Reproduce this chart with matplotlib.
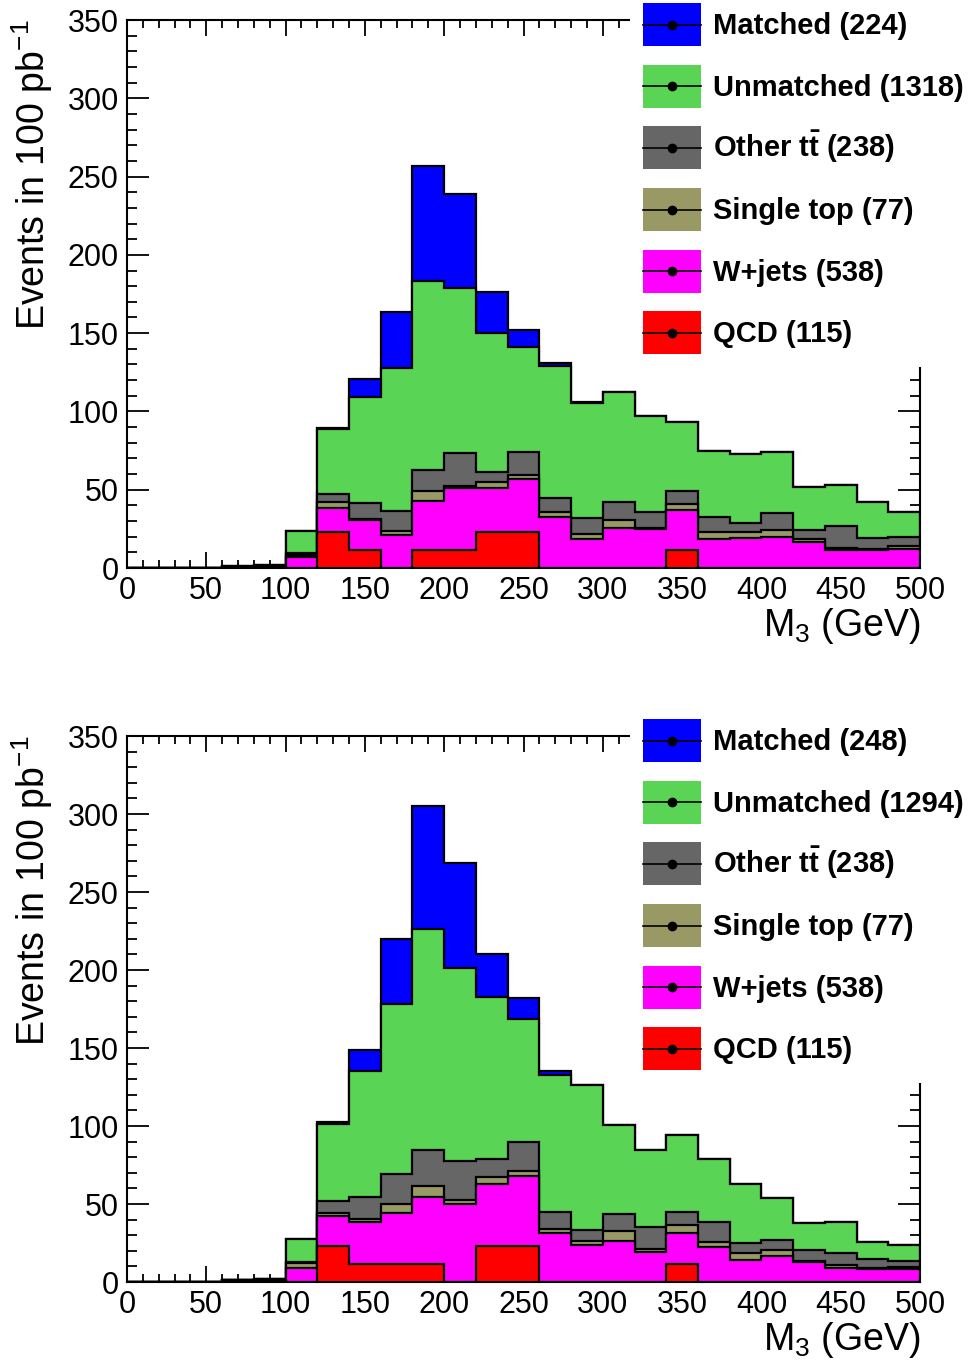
import numpy as np
import matplotlib
matplotlib.use("Agg")
import matplotlib.pyplot as plt
from matplotlib.patches import Patch, Rectangle
from matplotlib.lines import Line2D
from matplotlib.legend_handler import HandlerBase
from matplotlib.ticker import MultipleLocator

plt.rcParams['font.family'] = ['Liberation Sans', 'DejaVu Sans']
plt.rcParams['mathtext.fontset'] = 'custom'
plt.rcParams['mathtext.rm'] = 'Liberation Sans'
plt.rcParams['mathtext.bf'] = 'Liberation Sans:bold'

# === Data: 25 bins of 20 GeV, 0..500 ===
edges = np.arange(0, 520, 20)

# top panel
qcd_top = [0, 0, 0, 0, 0, 0, 23.2, 11.5, 0, 11.5, 11.5, 23.2, 23.2,
           0, 0, 0, 0, 11.5, 0, 0, 0, 0, 0, 0, 0]
wjets_top = [0, 0, 0, 0.4, 0.6, 6.8, 15.3, 19.3, 21.0, 31.5, 39.4, 28.1, 33.4,
             32.8, 18.3, 25.7, 24.7, 25.5, 18.3, 19.0, 20.0, 16.8, 11.5, 11.5, 12.1]
stop_top = [0, 0, 0, 0, 0, 1.5, 3.5, 0.5, 2.6, 6.4, 1.5, 3.4, 2.8,
            3.0, 3.6, 4.9, 1.0, 3.9, 4.9, 3.8, 4.3, 1.5, 1.5, 0.6, 1.9]
other_top = [0, 0, 0, 0, 0.4, 1.1, 5.3, 10.4, 12.8, 13.2, 21.2, 6.8, 14.5,
             8.7, 10.0, 11.3, 10.3, 8.3, 9.2, 6.1, 10.6, 6.0, 13.8, 6.9, 6.0]
unmatched_top = [0, 0, 0, 0.6, 1.0, 14.4, 41.7, 67.7, 91.1, 120.7, 105.0, 88.8, 67.0,
                 84.8, 73.8, 70.3, 61.0, 44.2, 42.5, 43.7, 39.4, 27.6, 26.2, 23.3, 15.8]
matched_top = [0, 0, 0, 0, 0, 0, 0.3, 11.1, 36.2, 73.4, 60.0, 25.7, 11.1,
               1.7, 0.2, 0.2, 0.2, 0.1, 0.1, 0.1, 0.1, 0.1, 0.1, 0.1, 0.1]

# bottom panel
qcd_bot = [0, 0, 0, 0, 0, 0, 23.0, 11.5, 11.5, 11.5, 0, 23.0, 23.0,
           0, 0, 0, 0, 11.5, 0, 0, 0, 0, 0, 0, 0]
wjets_bot = [0, 0, 0, 1.5, 1.0, 8.8, 19.3, 27.2, 32.9, 43.2, 49.8, 39.6, 44.9,
             31.4, 24.0, 26.5, 19.4, 20.1, 22.6, 14.1, 16.7, 12.6, 8.8, 8.1, 8.3]
stop_bot = [0, 0, 0, 0, 0, 3.2, 2.1, 1.7, 5.4, 6.8, 2.8, 4.5, 3.3,
            2.4, 2.2, 6.2, 1.6, 4.9, 3.2, 4.7, 3.8, 1.1, 2.1, 1.1, 1.5]
other_bot = [0, 0, 0, 0, 1.0, 1.0, 7.5, 14.3, 19.4, 23.1, 25.0, 11.5, 18.3,
             11.0, 7.1, 10.9, 14.0, 8.2, 12.9, 6.0, 6.4, 6.8, 7.5, 5.5, 3.9]
unmatched_bot = [0, 0, 0, 0, 0, 14.4, 49.2, 80.8, 109.0, 141.4, 123.9, 104.3, 79.1,
                 87.7, 92.8, 57.0, 49.6, 49.5, 40.1, 37.8, 26.7, 17.1, 19.9, 11.1, 10.0]
matched_bot = [0, 0, 0, 0, 0, 0, 1.7, 13.2, 41.5, 79.0, 67.3, 27.1, 13.2,
               2.5, 0.4, 0.1, 0.1, 0.1, 0.1, 0.1, 0.1, 0.1, 0.1, 0.1, 0.1]

names = ["Matched", "Unmatched", r"Other t$\mathbf{\bar{t}}$", "Single top", "W+jets", "QCD"]
counts_top = [224, 1318, 238, 77, 538, 115]
counts_bot = [248, 1294, 238, 77, 538, 115]
colors = ["#0000ff", "#59d454", "#666666", "#999966", "#ff00ff", "#ff0000"]


class BoxLineDot(HandlerBase):
    # ROOT-style "lpf" legend entry: filled box, line and marker through the middle
    def create_artists(self, legend, orig_handle, xdescent, ydescent,
                       width, height, fontsize, trans):
        x0, y0 = -xdescent, -ydescent
        yc = y0 + height / 2
        box = Rectangle((x0, y0), width, height, facecolor=orig_handle.get_facecolor(),
                        edgecolor="none", transform=trans)
        line = Line2D([x0, x0 + width], [yc, yc], color="black", lw=1.2, transform=trans)
        dot = Line2D([x0 + width / 2], [yc], color="black", marker="o", markersize=6,
                     linestyle="none", transform=trans)
        return [box, line, dot]


def draw_panel(ax, comps, counts):
    # comps ordered bottom -> top: qcd, wjets, stop, other, unmatched, matched
    cum = np.cumsum(np.array(comps, dtype=float), axis=0)
    layer_colors = colors[::-1]
    # draw tallest first so lower layers sit on top
    for i in range(len(comps) - 1, -1, -1):
        ax.stairs(cum[i], edges, baseline=0, fill=True, facecolor=layer_colors[i],
                  edgecolor="none", zorder=2)
        ax.stairs(cum[i], edges, baseline=0, fill=False, color="black",
                  linewidth=1.6, zorder=2)

    ax.set_xlim(0, 500)
    ax.set_ylim(0, 350)
    ax.xaxis.set_major_locator(MultipleLocator(50))
    ax.xaxis.set_minor_locator(MultipleLocator(10))
    ax.yaxis.set_major_locator(MultipleLocator(50))
    ax.yaxis.set_minor_locator(MultipleLocator(10))
    ax.tick_params(which="both", direction="in", top=True, right=True,
                   labelsize=22, width=1.3)
    ax.tick_params(axis="y", which="major", length=15.5, pad=6)
    ax.tick_params(axis="y", which="minor", length=7.5)
    ax.tick_params(axis="x", which="major", length=11.5, pad=6)
    ax.tick_params(axis="x", which="minor", length=5.5)
    for s in ax.spines.values():
        s.set_linewidth(1.5)
    ax.set_xlabel(r"M$_3$ (GeV)", fontsize=27, loc="right", labelpad=0)
    ax.set_ylabel(r"Events in 100 pb$^{-1}$", fontsize=27, loc="top", labelpad=9)

    handles = [Patch(facecolor=c, edgecolor="none") for c in colors]
    labels = [f"{n} ({c})" for n, c in zip(names, counts)]
    pos = ax.get_position()
    leg = ax.legend(handles, labels, loc="upper left",
                    bbox_to_anchor=(630 / 969, pos.y1 + 30 / 1363),
                    bbox_transform=ax.figure.transFigure,
                    handler_map={Patch: BoxLineDot()},
                    prop={"weight": "bold", "size": 21},
                    handlelength=1.99, handleheight=1.89, labelspacing=0.64,
                    handletextpad=0.41, borderpad=0.45, borderaxespad=0,
                    frameon=True, fancybox=False, framealpha=1.0)
    leg.get_frame().set_facecolor("white")
    leg.get_frame().set_edgecolor("none")
    leg.set_zorder(10)


fig = plt.figure(figsize=(9.69, 13.63), dpi=100)
ax1 = fig.add_axes([127 / 969, 1 - 568 / 1363, 793 / 969, 548 / 1363])
ax2 = fig.add_axes([127 / 969, 1 - 1282 / 1363, 793 / 969, 546 / 1363])

draw_panel(ax1, [qcd_top, wjets_top, stop_top, other_top, unmatched_top, matched_top], counts_top)
draw_panel(ax2, [qcd_bot, wjets_bot, stop_bot, other_bot, unmatched_bot, matched_bot], counts_bot)

fig.savefig("out.png", dpi=100)
